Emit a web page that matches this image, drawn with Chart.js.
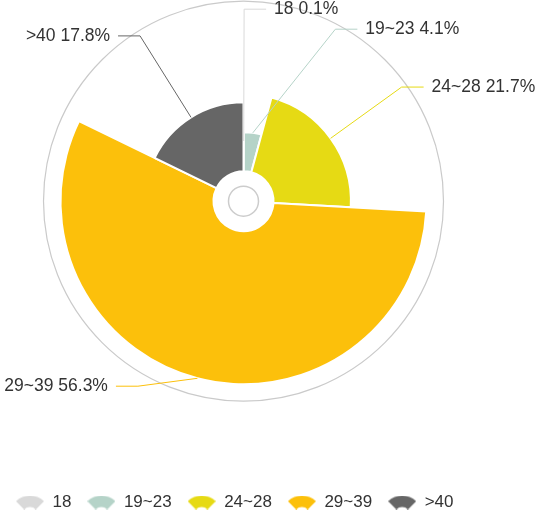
<!DOCTYPE html>
<html lang="en">
<head>
    <meta charset="UTF-8">
    <title>Age Distribution</title>
    <script src="https://cdn.jsdelivr.net/npm/chart.js"></script>
    <style>
        html, body { margin: 0; padding: 0; background: #fff; }
        canvas { display: block; }
    </style>
</head>
<body>
    <canvas id="roseChart" width="540" height="510"></canvas>

    <script>
        // Data
        const ageGroups = ['18', '19~23', '24~28', '29~39', '>40'];
        const shares = [0.1, 4.1, 21.7, 56.3, 17.8];

        // Styles
        const sliceColors = ['#d9d9d9', '#b5d3c8', '#e6da14', '#fcc00b', '#666666'];
        const FONT = "'Liberation Sans', Arial, sans-serif";

        // Fan shaped legend marker (like the rose slices)
        function fanIcon(color) {
            const c = document.createElement('canvas');
            c.width = 28;
            c.height = 14;
            const g = c.getContext('2d');
            const R = 19.8, r = 8.2, a = Math.PI / 4;
            g.fillStyle = color;
            g.beginPath();
            g.arc(14, R, R, -Math.PI / 2 - a, -Math.PI / 2 + a);
            g.arc(14, R, r, -Math.PI / 2 + a, -Math.PI / 2 - a, true);
            g.closePath();
            g.fill();
            return c;
        }

        // Rose layout: radius grows with the value, rings and outside labels
        const roseLayout = {
            id: 'roseLayout',
            afterDatasetsUpdate(chart, args, opts) {
                const meta = chart.getDatasetMeta(0);
                const values = chart.data.datasets[0].data;
                const top = Math.max(...values);
                meta.data.forEach((arc, i) => {
                    arc.innerRadius = opts.innerRadius;
                    arc.outerRadius = opts.minRadius + (opts.maxRadius - opts.minRadius) * values[i] / top;
                });
            },
            beforeDatasetsDraw(chart, args, opts) {
                const arc = chart.getDatasetMeta(0).data[0];
                const ctx = chart.ctx;
                ctx.save();
                ctx.strokeStyle = '#cacaca';
                ctx.lineWidth = 1.2;
                ctx.beginPath();
                ctx.arc(arc.x, arc.y, opts.ringRadius, 0, Math.PI * 2);
                ctx.stroke();
                ctx.restore();
            },
            afterDatasetsDraw(chart, args, opts) {
                const meta = chart.getDatasetMeta(0);
                const values = chart.data.datasets[0].data;
                const ctx = chart.ctx;
                const cx = meta.data[0].x, cy = meta.data[0].y;

                // small ring in the hole
                ctx.save();
                ctx.strokeStyle = '#cccccc';
                ctx.lineWidth = 1.5;
                ctx.beginPath();
                ctx.arc(cx, cy, 15, 0, Math.PI * 2);
                ctx.stroke();

                // label positions
                const items = meta.data.map((arc, i) => {
                    const mid = (arc.startAngle + arc.endAngle) / 2;
                    const cos = Math.cos(mid), sin = Math.sin(mid);
                    const reach = Math.max(opts.ringRadius - 5, arc.outerRadius + 30);
                    let ey = cy + reach * sin;
                    const ey0 = ey;
                    ey = Math.min(Math.max(ey, cy - opts.ringRadius + 8), cy + opts.ringRadius - 15);
                    return {
                        i, reach, ey, ey0,
                        side: cos >= 0 ? 1 : -1,
                        x0: cx + arc.outerRadius * cos,
                        y0: cy + arc.outerRadius * sin,
                        ex: cx + reach * cos
                    };
                });

                [1, -1].forEach(side => {
                    const list = items.filter(d => d.side === side)
                        .sort((a, b) => a.ey - b.ey || a.i - b.i);
                    for (let k = 1; k < list.length; k++) {
                        if (list[k].ey < list[k - 1].ey + 20) list[k].ey = list[k - 1].ey + 20;
                    }
                });

                ctx.font = '17.5px ' + FONT;
                ctx.textBaseline = 'middle';
                items.forEach(d => {
                    if (Math.abs(d.ey - d.ey0) > 4) {
                        const dy = d.ey - cy;
                        d.ex = cx + d.side * Math.sqrt(Math.max(d.reach * d.reach - dy * dy, 0));
                    }
                    const color = sliceColors[d.i];
                    ctx.strokeStyle = color;
                    ctx.lineWidth = 1;
                    ctx.beginPath();
                    ctx.moveTo(d.x0, d.y0);
                    ctx.lineTo(d.ex, d.ey);
                    ctx.lineTo(d.ex + d.side * 22, d.ey);
                    ctx.stroke();

                    ctx.fillStyle = '#333';
                    ctx.textAlign = d.side > 0 ? 'left' : 'right';
                    const text = ageGroups[d.i] + ' ' + values[d.i].toFixed(1) + '%';
                    ctx.fillText(text, d.ex + d.side * 30, d.ey);
                });
                ctx.restore();
            }
        };

        const ctx = document.getElementById('roseChart').getContext('2d');
        const roseChart = new Chart(ctx, {
            type: 'doughnut',
            data: {
                labels: ageGroups,
                datasets: [{
                    data: shares,
                    backgroundColor: sliceColors,
                    borderColor: '#ffffff',
                    borderWidth: 2
                }]
            },
            options: {
                responsive: false,
                animation: false,
                events: [],
                cutout: 30,
                layout: { padding: { top: 0, left: 0, right: 53, bottom: -11 } },
                plugins: {
                    tooltip: { enabled: false },
                    roseLayout: { innerRadius: 30, minRadius: 60, maxRadius: 183, ringRadius: 200 },
                    legend: {
                        position: 'bottom',
                        align: 'start',
                        // empty title keeps the gap between the rose and the legend row
                        title: { display: true, text: ' ', font: { size: 1 }, padding: { top: 0, bottom: 74.4 } },
                        labels: {
                            usePointStyle: true,
                            pointStyleWidth: 28,
                            boxHeight: 14,
                            padding: 16,
                            color: '#333',
                            font: { size: 17, family: FONT },
                            generateLabels: chart => chart.data.labels.map((label, i) => ({
                                text: label,
                                fillStyle: sliceColors[i],
                                strokeStyle: sliceColors[i],
                                fontColor: '#333',
                                lineWidth: 0,
                                pointStyle: fanIcon(sliceColors[i]),
                                hidden: false,
                                index: i
                            }))
                        }
                    }
                }
            },
            plugins: [roseLayout]
        });
    </script>
</body>
</html>
